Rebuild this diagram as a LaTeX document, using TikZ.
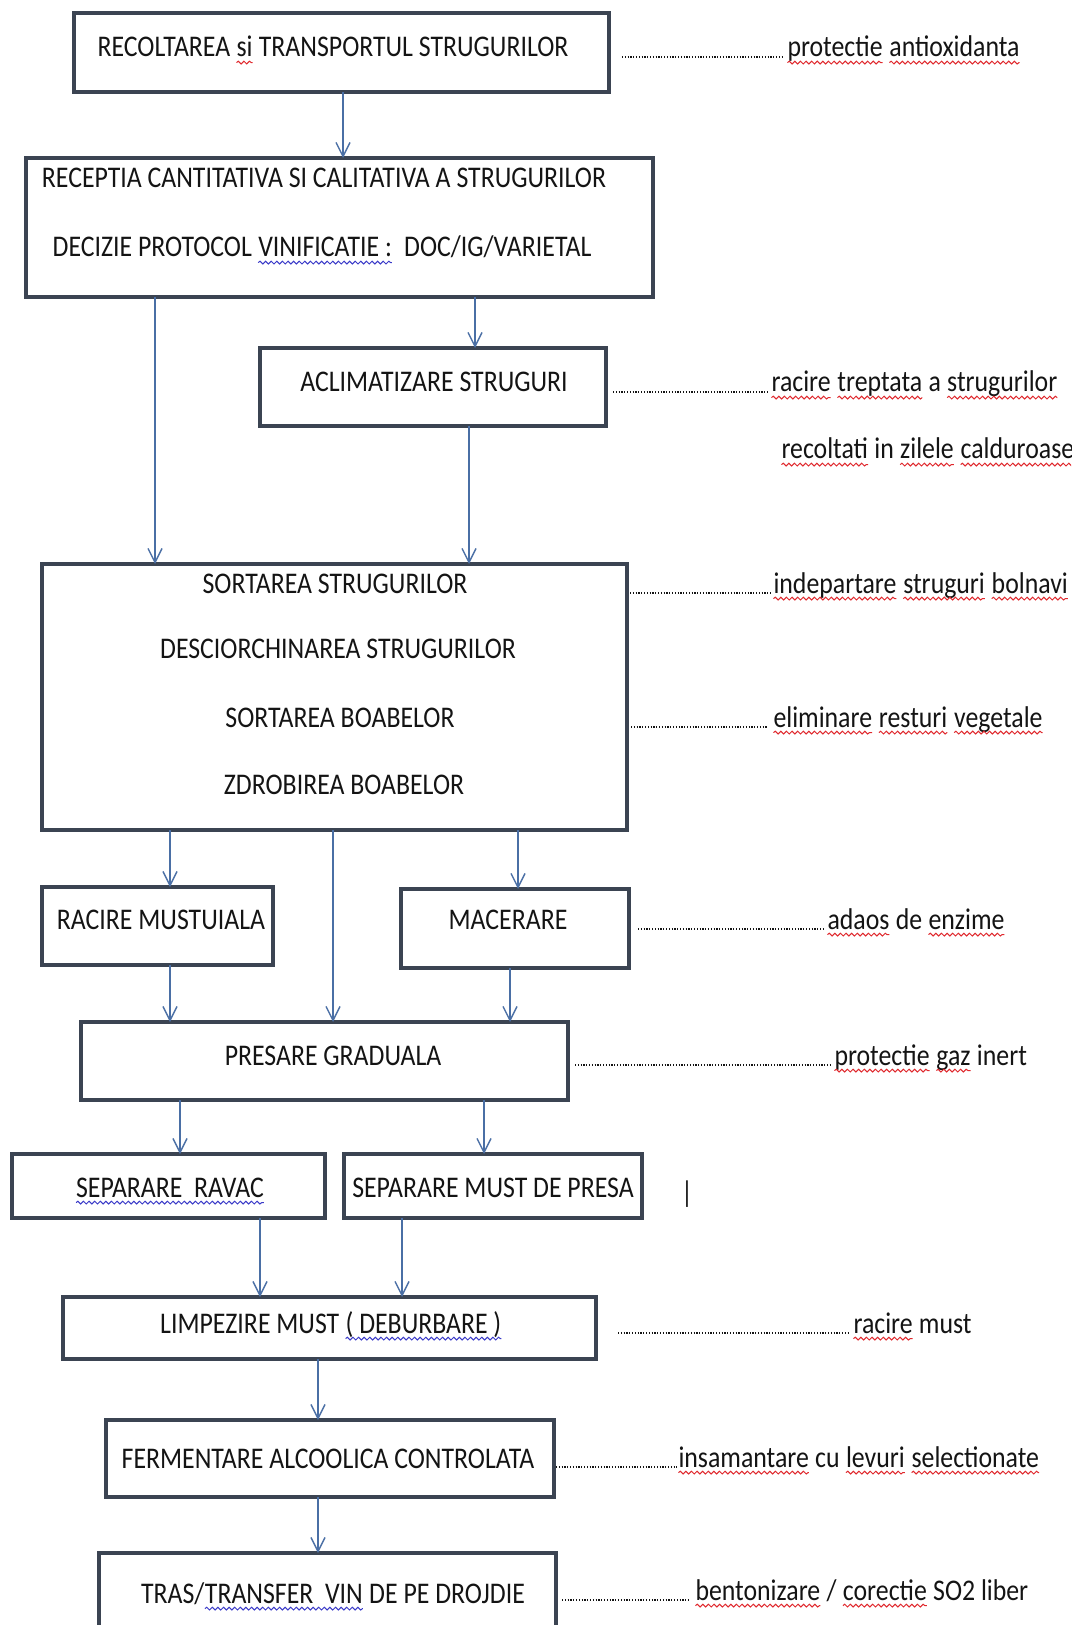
\documentclass[tikz,border=0pt]{standalone}
\usepackage{fontspec}
\setmainfont[FakeStretch=0.86]{Carlito}
\usetikzlibrary{arrows.meta,decorations.pathmorphing,calc}
\definecolor{boxc}{HTML}{3B4452}
\definecolor{arrc}{HTML}{4A6FA5}
\definecolor{wred}{HTML}{E0282D}
\definecolor{wblue}{HTML}{3A3AC8}
\definecolor{txt}{HTML}{141414}
\newcommand\wv[2]{\tikz[baseline=(wvn.base)]{\node[inner sep=0pt,outer sep=0pt,anchor=base] (wvn) at (0pt,0pt) {#2};\draw[#1,line width=0.5pt,decorate,decoration={snake,amplitude=0.7pt,segment length=2.8pt}] ([yshift=-2.8pt]wvn.base west) -- ([yshift=-2.8pt]wvn.base east);}}
\newcommand\bx[5]{\node[box,minimum width={(#4-#2)*0.5pt},minimum height={(#5-#3)*0.5pt}] (#1) at ({(#2+#4)/2},{(#3+#5)/2}) {};}
\tikzset{
  box/.style={draw=boxc,line width=1.6pt,fill=white,inner sep=0pt,outer sep=0pt},
  lbl/.style={inner sep=0pt,outer sep=0pt,text=txt,font=\fontsize{15pt}{16pt}\selectfont},
  arr/.style={draw=arrc,line width=0.7pt,-{Straight Barb[length=7pt,width=7pt]}},
  leader/.style={draw=txt,line width=1pt,dash pattern=on 0.55pt off 0.85pt}
}
\begin{document}
\begin{tikzpicture}[x=0.5pt,y=-0.5pt]
\useasboundingbox (0,0) rectangle (1071,1625);
\clip (0,0) rectangle (1071,1625);
\fill[white] (0,0) rectangle (1071,1625);
% boxes
\bx{b1}{74}{13}{609}{92}
\bx{b2}{26}{158}{653}{297}
\bx{b3}{260}{348}{606}{426}
\bx{b4}{42}{564}{627}{830}
\bx{b5}{42}{887}{273}{965}
\bx{b6}{401}{889}{629}{968}
\bx{b7}{81}{1022}{568}{1100}
\bx{b8}{12}{1154}{325}{1218}
\bx{b9}{344}{1154}{642}{1218}
\bx{b10}{63}{1297}{596}{1359}
\bx{b11}{106}{1420}{554}{1497}
\bx{b12}{99}{1553}{556}{1645}
% box texts
\node[lbl,anchor=base] (t1) at (333,57) {RECOLTAREA \wv{wred}{si} TRANSPORTUL STRUGURILOR};
\node[lbl,anchor=base] (t2) at (324,188) {RECEPTIA CANTITATIVA SI CALITATIVA A STRUGURILOR};
\node[lbl,anchor=base] (t2b) at (322,257) {DECIZIE PROTOCOL \wv{wblue}{VINIFICATIE :}\ \ DOC/IG/VARIETAL};
\node[lbl,anchor=base] (t3) at (434,392) {ACLIMATIZARE STRUGURI};
\node[lbl,anchor=base] (t4a) at (335,593) {SORTAREA STRUGURILOR};
\node[lbl,anchor=base] (t4b) at (338,658) {DESCIORCHINAREA STRUGURILOR};
\node[lbl,anchor=base] (t4c) at (340,727) {SORTAREA BOABELOR};
\node[lbl,anchor=base] (t4d) at (344,794) {ZDROBIREA BOABELOR};
\node[lbl,anchor=base] (t5) at (161,929) {RACIRE MUSTUIALA};
\node[lbl,anchor=base] (t6) at (508,929) {MACERARE};
\node[lbl,anchor=base] (t7) at (333,1065) {PRESARE GRADUALA};
\node[lbl,anchor=base] (t8) at (170,1197) {\wv{wblue}{SEPARARE\ \ RAVAC}};
\node[lbl,anchor=base] (t9) at (493,1197) {SEPARARE MUST DE PRESA};
\node[lbl,anchor=base] (t10) at (331,1333) {LIMPEZIRE MUST \wv{wblue}{( DEBURBARE )}};
\node[lbl,anchor=base] (t11) at (328,1468) {FERMENTARE ALCOOLICA CONTROLATA};
\node[lbl,anchor=base] (t12) at (333,1603) {TRAS/\wv{wblue}{TRANSFER\ \ VIN} DE PE DROJDIE};
% annotations
\node[lbl,anchor=base west] (a1) at (787,57) {\wv{wred}{protectie} \wv{wred}{antioxidanta}};
\node[lbl,anchor=base west] (a3) at (771,392) {\wv{wred}{racire} \wv{wred}{treptata} a \wv{wred}{strugurilor}};
\node[lbl,anchor=base west] (a3b) at (781,459) {\wv{wred}{recoltati} in \wv{wred}{zilele} \wv{wred}{calduroase}};
\node[lbl,anchor=base west] (a4) at (773,593) {\wv{wred}{indepartare} \wv{wred}{struguri} \wv{wred}{bolnavi}};
\node[lbl,anchor=base west] (a4b) at (773,727) {\wv{wred}{eliminare} \wv{wred}{resturi} \wv{wred}{vegetale}};
\node[lbl,anchor=base west] (a6) at (827,929) {\wv{wred}{adaos} de \wv{wred}{enzime}};
\node[lbl,anchor=base west] (a7) at (834,1065) {\wv{wred}{protectie} \wv{wred}{gaz} inert};
\node[lbl,anchor=base] (cur) at (687,1202) {|};
\node[lbl,anchor=base west] (a10) at (853,1333) {\wv{wred}{racire} must};
\node[lbl,anchor=base west] (a11) at (678,1467) {\wv{wred}{insamantare} cu \wv{wred}{levuri} \wv{wred}{selectionate}};
\node[lbl,anchor=base west] (a12) at (695,1600) {\wv{wred}{bentonizare} / \wv{wred}{corectie} SO2 liber};
% leaders
\draw[leader] ($(b1.east|-a1.base)+(13,0)$) -- ($(a1.base west)+(-3,0)$);
\draw[leader] ($(b3.east|-a3.base)+(7,0)$) -- ($(a3.base west)+(-3,0)$);
\draw[leader] ($(b4.east|-a4.base)+(3,0)$) -- ($(a4.base west)+(-2,0)$);
\draw[leader] ($(b4.east|-a4b.base)+(4,0)$) -- ($(a4b.base west)+(-6,0)$);
\draw[leader] ($(b6.east|-a6.base)+(9,0)$) -- ($(a6.base west)+(-4,0)$);
\draw[leader] ($(b7.east|-a7.base)+(7,0)$) -- ($(a7.base west)+(-4,0)$);
\draw[leader] ($(b10.east|-a10.base)+(22,0)$) -- ($(a10.base west)+(-5,0)$);
\draw[leader] ($(b11.east|-a11.base)+(2,0)$) -- ($(a11.base west)+(-1,0)$);
\draw[leader] ($(b12.east|-a12.base)+(6,0)$) -- ($(a12.base west)+(-6,0)$);
% arrows
\draw[arr] (b1.south -| 343,0) -- (b2.north -| 343,0);
\draw[arr] (b2.south -| 155,0) -- (b4.north -| 155,0);
\draw[arr] (b2.south -| 475,0) -- (b3.north -| 475,0);
\draw[arr] (b3.south -| 469,0) -- (b4.north -| 469,0);
\draw[arr] (b4.south -| 170,0) -- (b5.north -| 170,0);
\draw[arr] (b4.south -| 333,0) -- (b7.north -| 333,0);
\draw[arr] (b4.south -| 518,0) -- (b6.north -| 518,0);
\draw[arr] (b5.south -| 170,0) -- (b7.north -| 170,0);
\draw[arr] (b6.south -| 510,0) -- (b7.north -| 510,0);
\draw[arr] (b7.south -| 180,0) -- (b8.north -| 180,0);
\draw[arr] (b7.south -| 484,0) -- (b9.north -| 484,0);
\draw[arr] (b8.south -| 260,0) -- (b10.north -| 260,0);
\draw[arr] (b9.south -| 402,0) -- (b10.north -| 402,0);
\draw[arr] (b10.south -| 318,0) -- (b11.north -| 318,0);
\draw[arr] (b11.south -| 318,0) -- (b12.north -| 318,0);
\end{tikzpicture}
\end{document}
